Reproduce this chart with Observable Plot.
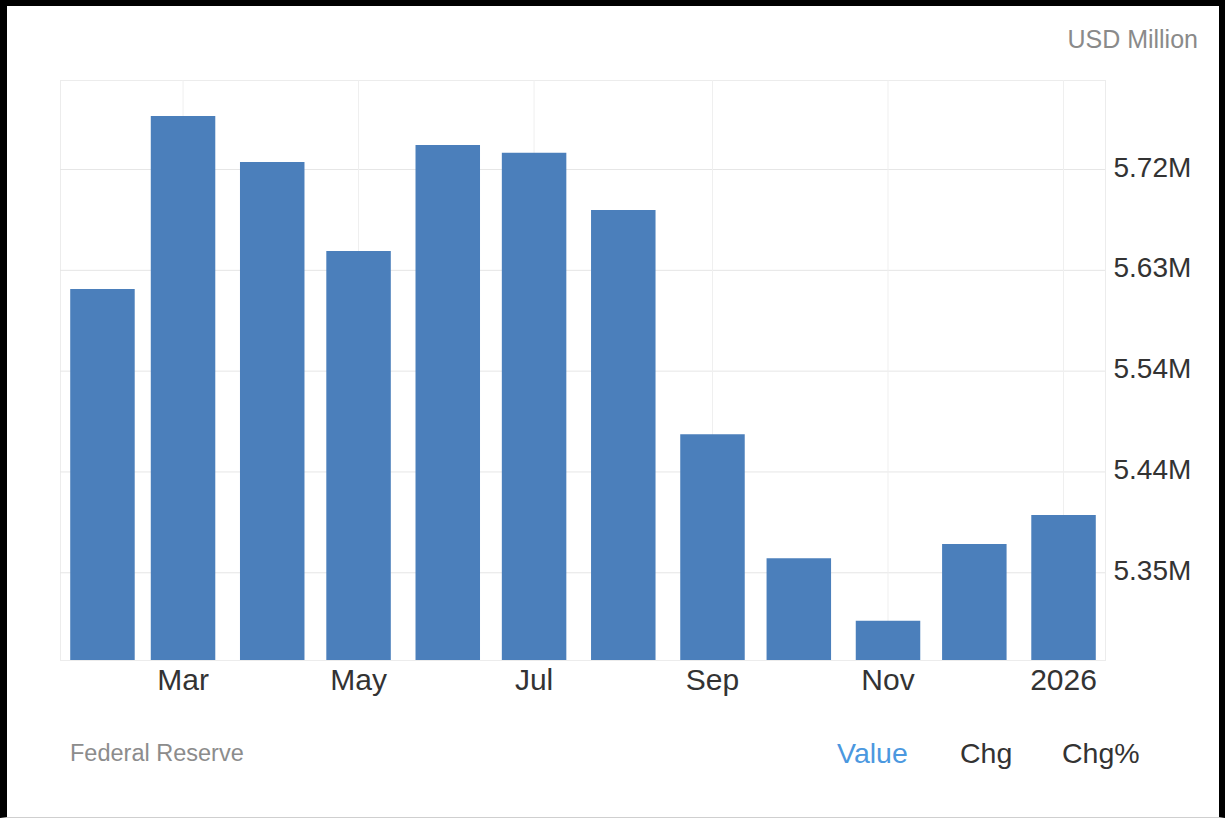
<!DOCTYPE html>
<html>
<head>
<meta charset="utf-8">
<script src="https://cdn.jsdelivr.net/npm/d3@7"></script>
<script src="https://cdn.jsdelivr.net/npm/@observablehq/plot@0.6"></script>
<style>
  html, body { margin: 0; padding: 0; background: #fff; }
  #page { position: relative; width: 1225px; height: 818px; overflow: hidden; font-family: "Liberation Sans", Arial, sans-serif; background: #fff; }
  #chart { position: absolute; left: 0; top: 0; }
  .txt { position: absolute; white-space: nowrap; line-height: 1; }
  #border { position: absolute; left: 0; top: 0; width: 1225px; height: 818px; box-sizing: border-box;
            border-left: 7px solid #000; border-top: 6px solid #000; border-right: 6px solid #000; border-bottom: 1px solid #cfcfcf; pointer-events: none; }
</style>
</head>
<body>
<div id="page">
  <div id="chart"></div>
  <div class="txt" style="right:27px; top:27px; font-size:25px; color:#8a8a8a;">USD Million</div>
  <div class="txt" style="left:70px; top:742px; font-size:23.5px; color:#8c8c8c;">Federal Reserve</div>
  <div class="txt" style="left:837px; top:739px; font-size:28.5px; color:#4b98df;">Value</div>
  <div class="txt" style="left:960px; top:739px; font-size:28.5px; color:#333;">Chg</div>
  <div class="txt" style="left:1062px; top:739px; font-size:28.5px; color:#333;">Chg%</div>
  <div id="border"></div>
</div>
<script>
// Months (Feb 2025 – Jan 2026), monthly observations
const months = ["2025-02-01","2025-03-01","2025-04-01","2025-05-01","2025-06-01","2025-07-01","2025-08-01","2025-09-01","2025-10-01","2025-11-01","2025-12-01","2026-01-01"];
// Values in USD Million
const values = [5610000, 5768600, 5726400, 5644800, 5742000, 5735000, 5682400, 5476600, 5362800, 5305600, 5376000, 5402600];
// X tick months and labels
const xTickMonths = ["2025-03-01","2025-05-01","2025-07-01","2025-09-01","2025-11-01","2026-01-01"];
const xTickLabels = ["Mar","May","Jul","Sep","Nov","2026"];
// Y ticks and labels
const yTickValues = [5350000, 5442500, 5535000, 5627500, 5720000];
const yTickLabels = ["5.35M","5.44M","5.54M","5.63M","5.72M"];

const parse = s => new Date(s + "T00:00:00Z");
const data = months.map((m, i) => ({date: parse(m), value: values[i]}));
const xTicks = xTickMonths.map(parse);
const xLabel = new Map(xTickMonths.map((m, i) => [+parse(m), xTickLabels[i]]));
const yLabel = new Map(yTickValues.map((v, i) => [v, yTickLabels[i]]));

const chart = Plot.plot({
  width: 1225,
  height: 720,
  marginLeft: 60,
  marginRight: 120,
  marginTop: 80,
  marginBottom: 60,
  style: {fontFamily: "Liberation Sans, Arial, sans-serif", background: "transparent", overflow: "visible"},
  x: {type: "utc", domain: [new Date(Date.UTC(2025, 0, 17, 10)), new Date(Date.UTC(2026, 0, 15, 14))]},
  y: {domain: [5269500, 5801700]},
  marks: [
    Plot.frame({stroke: "#ececec"}),
    Plot.gridY(yTickValues, {stroke: "#e6e6e6", strokeOpacity: 1}),
    Plot.gridX(xTicks, {stroke: "#efefef", strokeOpacity: 1}),
    Plot.ruleX(data, {x: "date", y1: 0, y2: "value", stroke: "#4b7fbb", strokeWidth: 64.5, clip: true}),
    Plot.axisY({anchor: "right", ticks: yTickValues, tickFormat: d => yLabel.get(d), tickSize: 0, tickPadding: 8, fontSize: 28, fill: "#333", textAnchor: "start", dy: -2, label: null}),
    Plot.axisX({ticks: xTicks, tickFormat: d => xLabel.get(+d), tickSize: 0, tickPadding: 8, fontSize: 30, fill: "#333", label: null})
  ]
});
document.getElementById("chart").appendChild(chart);
</script>
</body>
</html>
